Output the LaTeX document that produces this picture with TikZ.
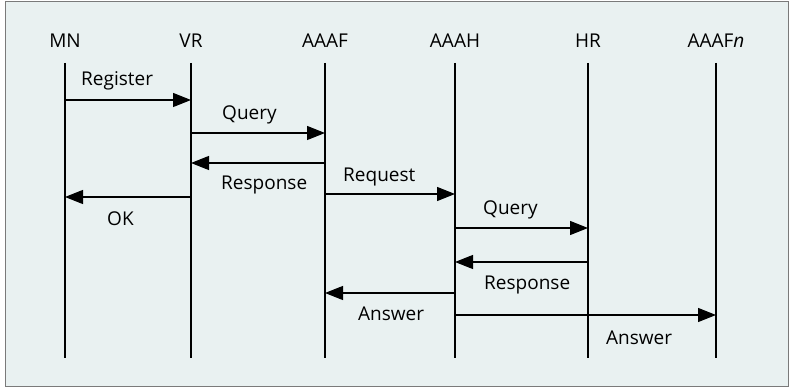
\documentclass[tikz,border=0pt]{standalone}
\usepackage{fontspec}
\setmainfont{Open Sans}
\usepackage{tikz}
\usetikzlibrary{arrows.meta}
\usetikzlibrary{positioning}
\definecolor{panelbg}{HTML}{E9F1F1}
\definecolor{panelline}{HTML}{7A7A7A}
\tikzset{
  actor/.style = {inner sep=0pt, font=\fontsize{19}{21}\selectfont},% entity name
  msglabel/.style = {inner sep=0pt, anchor=base west,
    font=\fontsize{19}{21}\selectfont},% message text
  lifeline/.style = {draw=black, line width=1.1pt},
  msg/.style = {draw=black, line width=1.1pt,
    -{Triangle[length=18pt,width=14pt]}}% message arrow
}

\begin{document}
\begin{tikzpicture}[x=1pt,y=-1pt]
\useasboundingbox (0,0) rectangle (789,387);
\draw[panelline, fill=panelbg, line width=1pt] (5,2) rectangle (788,386);

% entities
\node [actor, anchor=base] (mn)   at (65,48)  {MN};
\node [actor, anchor=base] (vr)   at (191,48) {VR};
\node [actor, anchor=base] (aaaf) at (325,48) {AAAF};
\node [actor, anchor=base] (aaah) at (455,48) {AAAH};
\node [actor, anchor=base] (hr)   at (588,48) {HR};
\node [actor, anchor=base] (aaafn) at (716,48) {AAAF\textit{n}};

% life lines
\foreach \a/\x in {mn/65,vr/191,aaaf/325,aaah/455,hr/588,aaafn/716}{
  \coordinate (\a-top) at (\x,63);
  \coordinate (\a-bot) at (\x,358);
  \draw[lifeline] (\a-top) -- (\a-bot);
}

% message rows
\coordinate (m1) at (0,100);
\coordinate (m2) at (0,133);
\coordinate (m3) at (0,163);
\coordinate (m4) at (0,194);
\coordinate (m5) at (0,197);
\coordinate (m6) at (0,228);
\coordinate (m7) at (0,262);
\coordinate (m8) at (0,293);
\coordinate (m9) at (0,315);

\draw[msg] (mn-top |- m1) -- (vr-top |- m1);
\draw[msg] (vr-top |- m2) -- (aaaf-top |- m2);
\draw[msg] (aaaf-top |- m3) -- (vr-top |- m3);
\draw[msg] (aaaf-top |- m4) -- (aaah-top |- m4);
\draw[msg] (vr-top |- m5) -- (mn-top |- m5);
\draw[msg] (aaah-top |- m6) -- (hr-top |- m6);
\draw[msg] (hr-top |- m7) -- (aaah-top |- m7);
\draw[msg] (aaah-top |- m8) -- (aaaf-top |- m8);
\draw[msg] (aaah-top |- m9) -- (aaafn-top |- m9);

% labels
\node [msglabel] (l1) at (81,86)   {Register};
\node [msglabel] (l2) at (222,120) {Query};
\node [msglabel] (l3) at (221,190) {Response};
\node [msglabel] (l4) at (343,182) {Request};
\node [msglabel] (l5) at (107,226) {OK};
\node [msglabel] (l6) at (483,215) {Query};
\node [msglabel] (l7) at (484,289) {Response};
\node [msglabel] (l8) at (358,320) {Answer};
\node [msglabel] (l9) at (606,344) {Answer};
\end{tikzpicture}
\end{document}
